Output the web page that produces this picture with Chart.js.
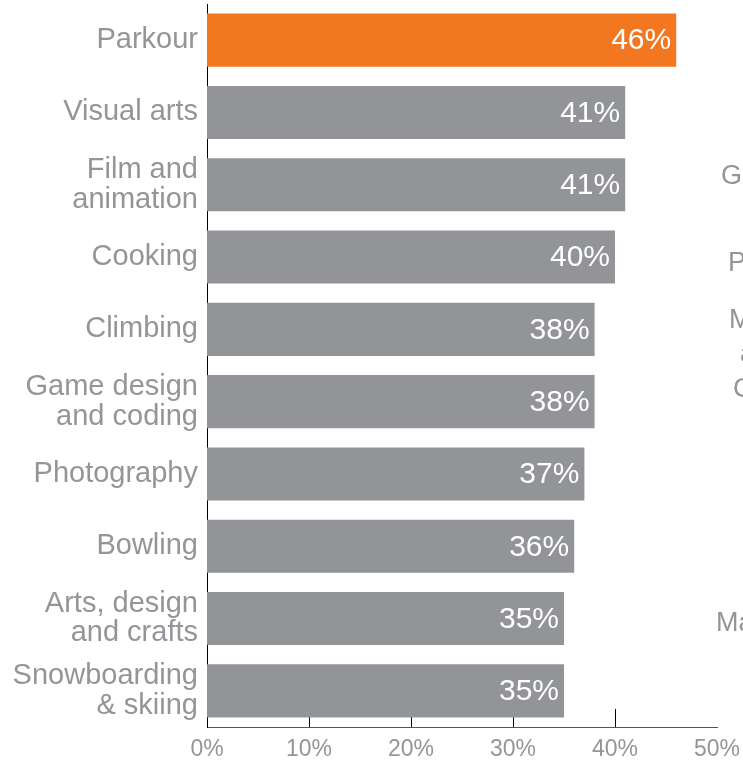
<!DOCTYPE html>
<html>
<head>
<meta charset="utf-8">
<script src="https://cdn.jsdelivr.net/npm/chart.js@4.4.1/dist/chart.umd.min.js"></script>
<style>
  html, body { margin: 0; padding: 0; background: #fff; overflow: hidden; }
  #wrap { position: relative; width: 743px; height: 765px; overflow: hidden; }
  #chart { position: absolute; left: 0; top: 0; }
  .side { position: absolute; font-family: "Liberation Sans", Arial, sans-serif; font-size: 27px;
          line-height: 27px; color: #939598; white-space: nowrap; }
</style>
</head>
<body>
<div id="wrap">
  <canvas id="chart" width="743" height="765"></canvas>
  <!-- labels of the neighbouring panel, cut by the page edge -->
  <span class="side" style="left:721px;top:162px">G</span>
  <span class="side" style="left:728px;top:249px">P</span>
  <span class="side" style="left:729px;top:306px">M</span>
  <span class="side" style="left:740px;top:340px">a</span>
  <span class="side" style="left:733px;top:375px">C</span>
  <span class="side" style="left:716px;top:609px">Ma</span>
</div>
<script>
const categories = [
  'Parkour',
  'Visual arts',
  ['Film and', 'animation'],
  'Cooking',
  'Climbing',
  ['Game design', 'and coding'],
  'Photography',
  'Bowling',
  ['Arts, design', 'and crafts'],
  ['Snowboarding', '& skiing']
];
const shares = [46, 41, 41, 40, 38, 38, 37, 36, 35, 35];
const highlightIndex = 0;
const axisTicks = [0, 10, 20, 30, 40, 50];

const ORANGE = '#F37721';
const GREY = '#929497';
const TEXT_GREY = '#939598';
const FONT = '"Liberation Sans", Arial, sans-serif';

// Short tick marks that rise from the bottom axis; drawn before the bars so bars hide them
const innerTicks = {
  id: 'innerTicks',
  beforeDatasetsDraw(chart) {
    const { ctx, scales: { x }, chartArea } = chart;
    ctx.save();
    ctx.strokeStyle = '#000';
    ctx.lineWidth = 1;
    axisTicks.forEach(v => {
      if (v === 0 || v === 50) return;
      const px = Math.round(x.getPixelForValue(v)) + 0.5;
      ctx.beginPath();
      ctx.moveTo(px, chartArea.bottom);
      ctx.lineTo(px, chartArea.bottom - 18);
      ctx.stroke();
    });
    ctx.restore();
  }
};

// Percentage written inside the end of each bar
const barValues = {
  id: 'barValues',
  afterDatasetsDraw(chart) {
    const { ctx } = chart;
    const meta = chart.getDatasetMeta(0);
    ctx.save();
    ctx.fillStyle = '#fff';
    ctx.font = '30px ' + FONT;
    ctx.textAlign = 'right';
    ctx.textBaseline = 'middle';
    meta.data.forEach((bar, i) => {
      ctx.fillText(shares[i] + '%', bar.x - 5, bar.y + 1);
    });
    ctx.restore();
  }
};

new Chart(document.getElementById('chart'), {
  type: 'bar',
  data: {
    labels: categories,
    datasets: [{
      data: shares,
      backgroundColor: shares.map((_, i) => i === highlightIndex ? ORANGE : GREY),
      borderWidth: 0,
      barPercentage: 0.735,
      categoryPercentage: 1.0
    }]
  },
  options: {
    indexAxis: 'y',
    responsive: false,
    animation: false,
    events: [],
    layout: { padding: { top: 4, right: 26, left: 0, bottom: 0 } },
    plugins: { legend: { display: false }, tooltip: { enabled: false } },
    scales: {
      x: {
        min: 0,
        max: 50,
        afterBuildTicks(scale) { scale.ticks = axisTicks.map(v => ({ value: v })); },
        afterFit(scale) {
          scale.height = 38;
          scale.paddingLeft = 0;
          scale.paddingRight = 0;
        },
        grid: { display: false, drawTicks: false },
        border: { display: true, color: '#555', width: 1 },
        ticks: {
          padding: 9,
          color: TEXT_GREY,
          font: { family: FONT, size: 23 },
          callback: v => v + '%'
        }
      },
      y: {
        afterFit(scale) {
          scale.width = 207;
          scale.paddingTop = 0;
          scale.paddingBottom = 0;
        },
        grid: { display: false, drawTicks: false },
        border: { display: true, color: '#000', width: 1 },
        ticks: {
          padding: 9,
          color: TEXT_GREY,
          font: { family: FONT, size: 29, lineHeight: 1.03 }
        }
      }
    }
  },
  plugins: [innerTicks, barValues]
});
</script>
</body>
</html>
